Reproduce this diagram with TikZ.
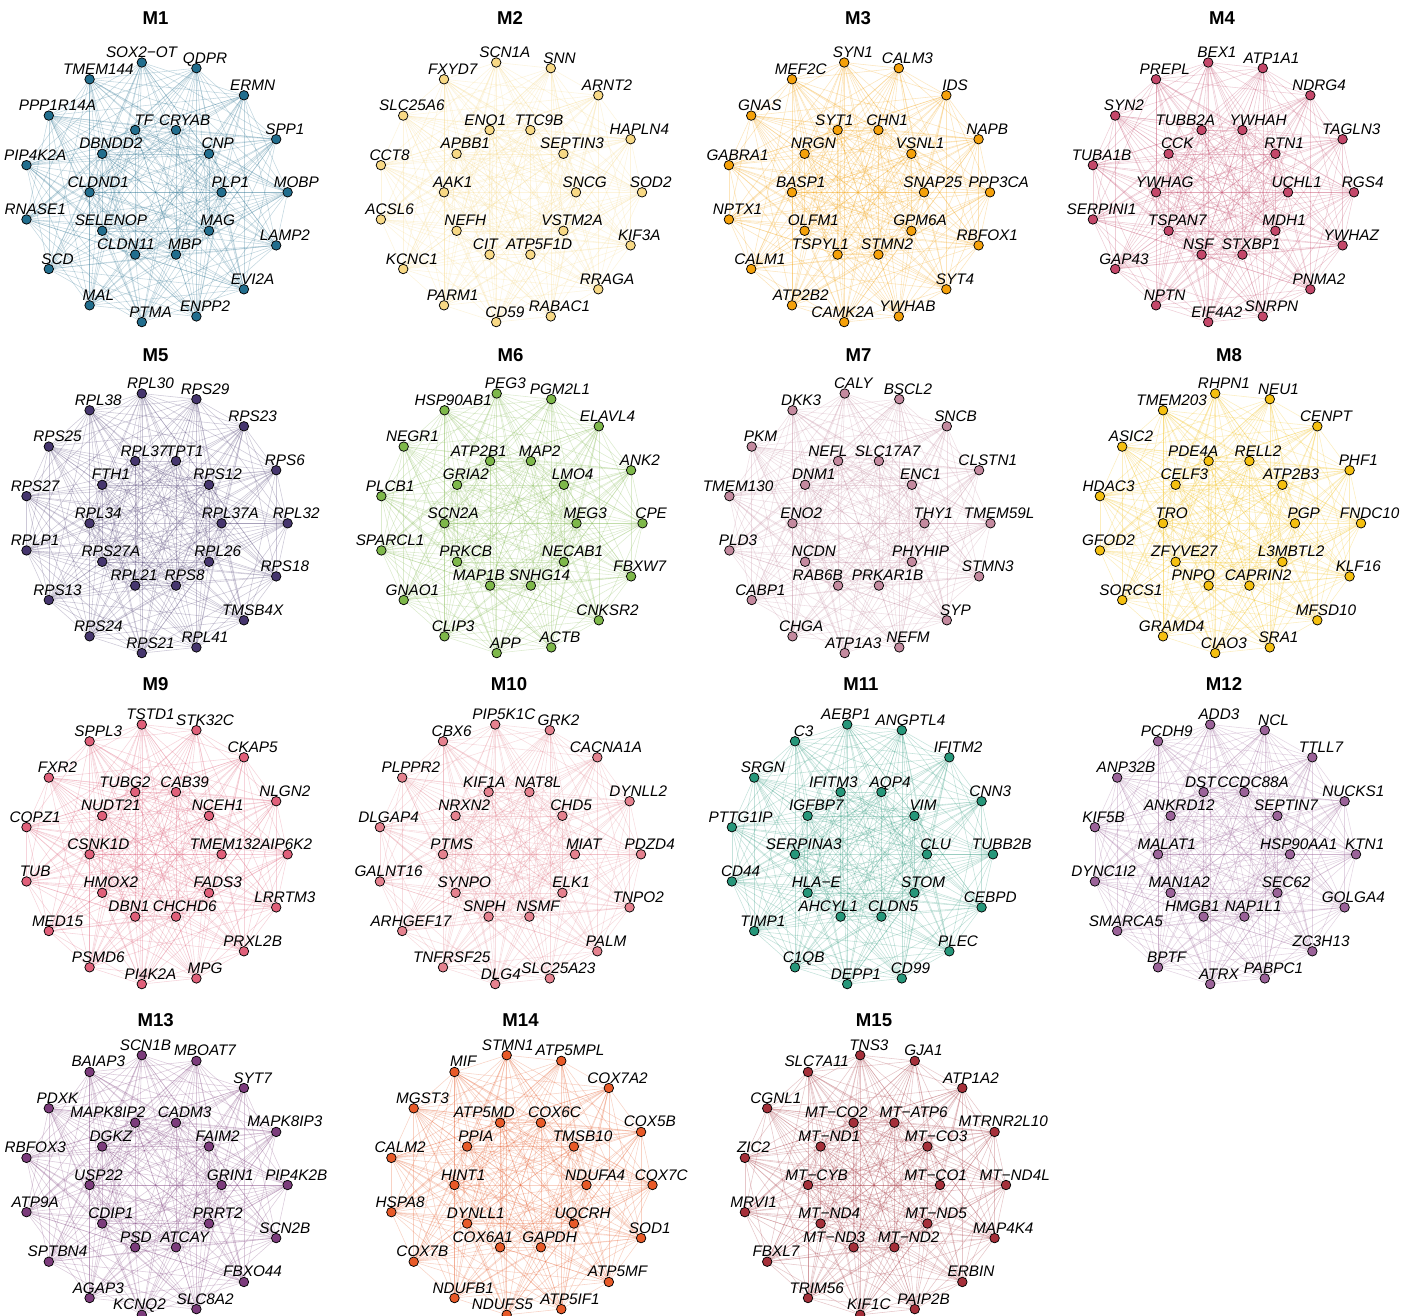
\documentclass[tikz,border=0pt]{standalone}
\usepackage{fontspec}
\setmainfont{Liberation Sans}
\pgfdeclarelayer{paper}
\pgfdeclarelayer{bg}
\pgfsetlayers{paper,bg,main}
\newlength\lblw
\definecolor{c1}{HTML}{226E8E}
\definecolor{c2}{HTML}{F8D985}
\definecolor{c3}{HTML}{F5A10A}
\definecolor{c4}{HTML}{C4486A}
\definecolor{c5}{HTML}{46366E}
\definecolor{c6}{HTML}{7EB84A}
\definecolor{c7}{HTML}{C48A9F}
\definecolor{c8}{HTML}{F5C010}
\definecolor{c9}{HTML}{E0607A}
\definecolor{c10}{HTML}{E5828F}
\definecolor{c11}{HTML}{26977A}
\definecolor{c12}{HTML}{9B6399}
\definecolor{c13}{HTML}{7C3C7C}
\definecolor{c14}{HTML}{E85A28}
\definecolor{c15}{HTML}{A5303A}
\newcommand\lblfont{\fontsize{15.3}{16}\selectfont\itshape}
\tikzset{
  gene/.style={circle, draw=black, line width=0.75pt, minimum size=9.5pt, inner sep=0pt},
  lbl/.style={font=\lblfont, inner sep=0pt, anchor=base},
  ttl/.style={font=\fontsize{18.6}{20}\selectfont\bfseries, inner sep=0pt},
  edgeline/.style={line width=0.55pt, draw opacity=0.27},
}
% label shifts (ggrepel-like), panel @ index
\newcommand\setsh[3]{\expandafter\def\csname sh@#1@#2\endcsname{#3}}
\setsh{1}{4}{-9}\setsh{1}{22}{-18}
\setsh{2}{18}{-13}\setsh{2}{22}{-13}
\setsh{3}{18}{-12}\setsh{3}{22}{-26}\setsh{3}{11}{-10}
\setsh{4}{18}{-25}\setsh{4}{17}{7}\setsh{4}{22}{-12}
\setsh{5}{22}{-10}
\setsh{6}{18}{-20}\setsh{6}{22}{-20}
\setsh{7}{18}{-19}\setsh{7}{22}{-29}
\setsh{8}{18}{-24}\setsh{8}{22}{-24}
\setsh{9}{18}{-19}\setsh{9}{22}{-15}\setsh{9}{0}{-5}
\setsh{10}{18}{-13}\setsh{10}{22}{-13}\setsh{10}{11}{-3}
\setsh{11}{18}{-16}\setsh{11}{22}{-21}\setsh{11}{23}{3}\setsh{11}{4}{-10}
\setsh{12}{18}{-12}\setsh{12}{22}{-20}
\setsh{13}{18}{-36}\setsh{13}{22}{-8}\setsh{13}{4}{-5}\setsh{13}{11}{-11}
\setsh{14}{18}{-24.5}\setsh{14}{17}{5}\setsh{14}{22}{-26}\setsh{14}{4}{-7.6}\setsh{14}{11}{-13}
\setsh{15}{18}{-26}\setsh{15}{17}{10.5}\setsh{15}{22}{-28}\setsh{15}{23}{5.5}\setsh{15}{15}{-13}
\newcommand\drawpanel[6]{%
  \node[ttl] (t#1) at (#2,#4) {M#1};
  \foreach \lab [count=\k from 0] in {#6} {
    \ifnum\k<15
      \pgfmathsetmacro\ang{24*\k}\def\rx{132}\def\ry{130.5}%
    \else
      \pgfmathsetmacro\ang{36*(\k-15)}\def\rx{66}\def\ry{65.5}%
    \fi
    \def\dx{0}%
    \ifcsname sh@#1@\k\endcsname \edef\dx{\csname sh@#1@\k\endcsname}\fi
    \node[gene, fill=#5] (p#1n\k) at ({#2+\rx*cos(\ang)},{#3-\ry*sin(\ang)}) {};
    \settowidth\lblw{\lblfont\lab}%
    \node[lbl] (p#1n\k l) at ([xshift=8.7pt+0.114\lblw+\dx pt, yshift=5pt]p#1n\k.center) {\lab};
  }
  \begin{pgfonlayer}{bg}
  \foreach \i in {0,...,23} {
    \pgfmathtruncatemacro\js{\i+1}
    \foreach \j in {\js,...,24} {
      \pgfmathtruncatemacro\keep{mod(7*\i+11*\j+#1,6)}
      \ifnum\keep>0 \draw[edgeline, #5] (p#1n\i) -- (p#1n\j);\fi
    }
  }
  \end{pgfonlayer}
}
\begin{document}
\begin{tikzpicture}[x=1pt,y=-1pt]
\begin{pgfonlayer}{paper}
\fill[white] (0,0) rectangle (1416,1316);
\end{pgfonlayer}
\useasboundingbox (0,0) rectangle (1416,1316);
\drawpanel{1}{155.6}{192.3}{18.3}{c1}{MOBP,SPP1,ERMN,QDPR,SOX2−OT,TMEM144,PPP1R14A,PIP4K2A,RNASE1,SCD,MAL,PTMA,ENPP2,EVI2A,LAMP2,PLP1,CNP,CRYAB,TF,DBNDD2,CLDND1,SELENOP,CLDN11,MBP,MAG}
\drawpanel{2}{510}{192.3}{18.3}{c2}{SOD2,HAPLN4,ARNT2,SNN,SCN1A,FXYD7,SLC25A6,CCT8,ACSL6,KCNC1,PARM1,CD59,RABAC1,RRAGA,KIF3A,SNCG,SEPTIN3,TTC9B,ENO1,APBB1,AAK1,NEFH,CIT,ATP5F1D,VSTM2A}
\drawpanel{3}{858}{192.3}{18.3}{c3}{PPP3CA,NAPB,IDS,CALM3,SYN1,MEF2C,GNAS,GABRA1,NPTX1,CALM1,ATP2B2,CAMK2A,YWHAB,SYT4,RBFOX1,SNAP25,VSNL1,CHN1,SYT1,NRGN,BASP1,OLFM1,TSPYL1,STMN2,GPM6A}
\drawpanel{4}{1222}{192.3}{18.3}{c4}{RGS4,TAGLN3,NDRG4,ATP1A1,BEX1,PREPL,SYN2,TUBA1B,SERPINI1,GAP43,NPTN,EIF4A2,SNRPN,PNMA2,YWHAZ,UCHL1,RTN1,YWHAH,TUBB2A,CCK,YWHAG,TSPAN7,NSF,STXBP1,MDH1}
\drawpanel{5}{155.6}{523.3}{355}{c5}{RPL32,RPS6,RPS23,RPS29,RPL30,RPL38,RPS25,RPS27,RPLP1,RPS13,RPS24,RPS21,RPL41,TMSB4X,RPS18,RPL37A,RPS12,TPT1,RPL37,FTH1,RPL34,RPS27A,RPL21,RPS8,RPL26}
\drawpanel{6}{510.5}{523.3}{355}{c6}{CPE,ANK2,ELAVL4,PGM2L1,PEG3,HSP90AB1,NEGR1,PLCB1,SPARCL1,GNAO1,CLIP3,APP,ACTB,CNKSR2,FBXW7,MEG3,LMO4,MAP2,ATP2B1,GRIA2,SCN2A,PRKCB,MAP1B,SNHG14,NECAB1}
\drawpanel{7}{858.5}{523.3}{355}{c7}{TMEM59L,CLSTN1,SNCB,BSCL2,CALY,DKK3,PKM,TMEM130,PLD3,CABP1,CHGA,ATP1A3,NEFM,SYP,STMN3,THY1,ENC1,SLC17A7,NEFL,DNM1,ENO2,NCDN,RAB6B,PRKAR1B,PHYHIP}
\drawpanel{8}{1229}{523.3}{355}{c8}{FNDC10,PHF1,CENPT,NEU1,RHPN1,TMEM203,ASIC2,HDAC3,GFOD2,SORCS1,GRAMD4,CIAO3,SRA1,MFSD10,KLF16,PGP,ATP2B3,RELL2,PDE4A,CELF3,TRO,ZFYVE27,PNPO,CAPRIN2,L3MBTL2}
\drawpanel{9}{155.6}{854.3}{684}{c9}{IP6K2,NLGN2,CKAP5,STK32C,TSTD1,SPPL3,FXR2,COPZ1,TUB,MED15,PSMD6,PI4K2A,MPG,PRXL2B,LRRTM3,TMEM132A,NCEH1,CAB39,TUBG2,NUDT21,CSNK1D,HMOX2,DBN1,CHCHD6,FADS3}
\drawpanel{10}{509}{854.3}{684}{c10}{PDZD4,DYNLL2,CACNA1A,GRK2,PIP5K1C,CBX6,PLPPR2,DLGAP4,GALNT16,ARHGEF17,TNFRSF25,DLG4,SLC25A23,PALM,TNPO2,MIAT,CHD5,NAT8L,KIF1A,NRXN2,PTMS,SYNPO,SNPH,NSMF,ELK1}
\drawpanel{11}{861}{854.3}{684}{c11}{TUBB2B,CNN3,IFITM2,ANGPTL4,AEBP1,C3,SRGN,PTTG1IP,CD44,TIMP1,C1QB,DEPP1,CD99,PLEC,CEBPD,CLU,VIM,AQP4,IFITM3,IGFBP7,SERPINA3,HLA−E,AHCYL1,CLDN5,STOM}
\drawpanel{12}{1224}{854.3}{684}{c12}{KTN1,NUCKS1,TTLL7,NCL,ADD3,PCDH9,ANP32B,KIF5B,DYNC1I2,SMARCA5,BPTF,ATRX,PABPC1,ZC3H13,GOLGA4,HSP90AA1,SEPTIN7,CCDC88A,DST,ANKRD12,MALAT1,MAN1A2,HMGB1,NAP1L1,SEC62}
\drawpanel{13}{155.6}{1185}{1020}{c13}{PIP4K2B,MAPK8IP3,SYT7,MBOAT7,SCN1B,BAIAP3,PDXK,RBFOX3,ATP9A,SPTBN4,AGAP3,KCNQ2,SLC8A2,FBXO44,SCN2B,GRIN1,FAIM2,CADM3,MAPK8IP2,DGKZ,USP22,CDIP1,PSD,ATCAY,PRRT2}
\drawpanel{14}{520.5}{1185}{1020}{c14}{COX7C,COX5B,COX7A2,ATP5MPL,STMN1,MIF,MGST3,CALM2,HSPA8,COX7B,NDUFB1,NDUFS5,ATP5IF1,ATP5MF,SOD1,NDUFA4,TMSB10,COX6C,ATP5MD,PPIA,HINT1,DYNLL1,COX6A1,GAPDH,UQCRH}
\drawpanel{15}{874}{1185}{1020}{c15}{MT−ND4L,MTRNR2L10,ATP1A2,GJA1,TNS3,SLC7A11,CGNL1,ZIC2,MRVI1,FBXL7,TRIM56,KIF1C,PAIP2B,ERBIN,MAP4K4,MT−CO1,MT−CO3,MT−ATP6,MT−CO2,MT−ND1,MT−CYB,MT−ND4,MT−ND3,MT−ND2,MT−ND5}
\end{tikzpicture}
\end{document}
